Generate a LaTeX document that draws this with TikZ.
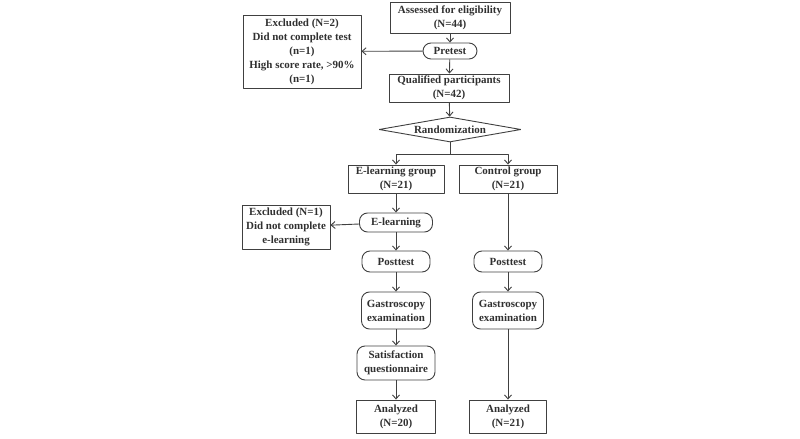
\documentclass[tikz,border=0pt]{standalone}
\usepackage{fontspec}
\setmainfont{Liberation Serif}
\usetikzlibrary{arrows.meta,shapes.geometric}
\definecolor{flowline}{HTML}{404040}
\definecolor{flowtext}{HTML}{303030}
\begin{document}
\begin{tikzpicture}[>={Straight Barb[length=4bp,width=7bp]},line join=bevel,
  every node/.style={font=\fontsize{11}{14}\selectfont\bfseries,text=flowtext,align=center,inner sep=1bp},
  box/.style={draw=flowline,line width=0.9bp,rectangle},
  rbox/.style={draw=flowline,line width=0.9bp,rectangle,rounded corners=8bp},
  decision/.style={draw=flowline,line width=0.9bp,diamond,aspect=5.7},
  link/.style={draw=flowline,line width=0.9bp},
]
\useasboundingbox (0bp,0bp) rectangle (800bp,439bp);
%%
\node (assess) at (450.0bp,421.5bp) [box,minimum width=120bp,minimum height=31bp] {Assessed for eligibility\\(N=44)};
  \node (pretest) at (450.0bp,388.0bp) [rbox,minimum width=54bp,minimum height=16bp] {Pretest};
  \node (excl1) at (302.0bp,387.5bp) [box,minimum width=118bp,minimum height=73bp] {Excluded (N=2)\\Did not complete test\\(n=1)\\High score rate, >90\%\\(n=1)};
  \node (qual) at (449.0bp,351.0bp) [box,minimum width=120bp,minimum height=28bp] {Qualified participants\\(N=42)};
  \node (rand) at (450.0bp,309.5bp) [decision,minimum width=142bp,minimum height=25bp,inner sep=0bp] {Randomization};
  \coordinate (split) at (450.0bp,285.0bp);
%
\node (egrp) at (396.0bp,260.0bp) [box,minimum width=96bp,minimum height=28bp] {E-learning group\\(N=21)};
  \node (cgrp) at (508.0bp,260.0bp) [box,minimum width=98bp,minimum height=28bp] {Control group\\(N=21)};
  \node (elearn) at (396.0bp,216.5bp) [rbox,minimum width=73bp,minimum height=19bp] {E-learning};
  \node (excl2) at (286.0bp,212.0bp) [box,minimum width=88bp,minimum height=44bp] {Excluded (N=1)\\Did not complete\\e-learning};
  \node (post1) at (396.0bp,177.5bp) [rbox,minimum width=68bp,minimum height=21bp] {Posttest};
  \node (post2) at (508.0bp,177.5bp) [rbox,minimum width=68bp,minimum height=21bp] {Posttest};
  \node (gas1) at (396.0bp,128.5bp) [rbox,minimum width=69bp,minimum height=37bp] {Gastroscopy\\examination};
  \node (gas2) at (508.0bp,128.5bp) [rbox,minimum width=71bp,minimum height=37bp] {Gastroscopy\\examination};
  \node (sat) at (396.0bp,76.0bp) [rbox,minimum width=78bp,minimum height=34bp] {Satisfaction\\questionnaire};
  \node (ana1) at (396.0bp,22.5bp) [box,minimum width=79bp,minimum height=33bp] {Analyzed\\(N=20)};
  \node (ana2) at (508.0bp,22.5bp) [box,minimum width=77bp,minimum height=33bp] {Analyzed\\(N=21)};
%
\draw [link,->] (assess) -- (pretest);
  \draw [link,->] (pretest) -- (qual);
  \draw [link,->] (pretest) -- (excl1);
  \draw [link,->] (qual) -- (rand);
  \draw [link] (rand) -- (split);
  \draw [link,->] (split) -| (egrp);
  \draw [link,->] (split) -| (cgrp);
  \draw [link,->] (egrp) -- (elearn);
  \draw [link,->] (elearn) -- (excl2);
  \draw [link,->] (elearn) -- (post1);
  \draw [link,->] (post1) -- (gas1);
  \draw [link,->] (gas1) -- (sat);
  \draw [link,->] (sat) -- (ana1);
  \draw [link,->] (cgrp) -- (post2);
  \draw [link,->] (post2) -- (gas2);
  \draw [link,->] (gas2) -- (ana2);
%
\end{tikzpicture}
\end{document}
